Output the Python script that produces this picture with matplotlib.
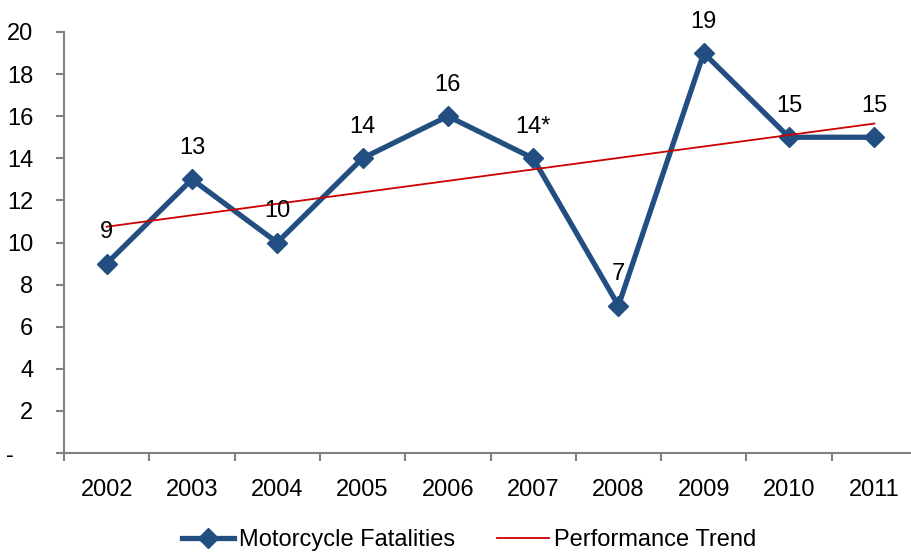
import matplotlib.pyplot as plt
from matplotlib.ticker import FixedLocator

plt.rcParams['font.family'] = ['Liberation Sans', 'DejaVu Sans']

years = ['2002', '2003', '2004', '2005', '2006', '2007', '2008', '2009', '2010', '2011']
fatalities = [9, 13, 10, 14, 16, 14, 7, 19, 15, 15]
point_labels = ['9', '13', '10', '14', '16', '14*', '7', '19', '15', '15']
trend_ends = [10.75, 15.65]   # trend line value at 2002 and at 2011

blue = '#234E82'
red = '#CC0000'
grey = '#808080'
fs = 17

fig = plt.figure(figsize=(9.11, 5.52), dpi=100)
ax = fig.add_axes([64 / 911, 99 / 552, 853 / 911, 421 / 552])

x = list(range(len(years)))
ax.plot(x, fatalities, color=blue, lw=3.8, marker='D', ms=10, mfc=blue, mec=blue,
        label='Motorcycle Fatalities', zorder=2, clip_on=False)
ax.plot([x[0], x[-1]], trend_ends, color=red, lw=1.3, label='Performance Trend', zorder=3)

for xi, yi, t in zip(x, fatalities, point_labels):
    ax.annotate(t, (xi, yi), xytext=(0, 22.5), textcoords='offset points',
                ha='center', va='center', fontsize=fs)

ax.set_xlim(-0.5, len(years) - 0.5)
ax.set_ylim(0, 20)
ax.set_yticks(range(0, 21, 2))
ax.set_yticklabels(['-   '] + [str(v) for v in range(2, 21, 2)])

ax.xaxis.set_major_locator(FixedLocator([i - 0.5 for i in range(len(years) + 1)]))
ax.xaxis.set_minor_locator(FixedLocator(x))
ax.set_xticklabels([], minor=False)
ax.set_xticklabels(years, minor=True)
ax.tick_params(axis='x', which='minor', length=0, pad=19, labelsize=fs)
ax.tick_params(axis='x', which='major', length=6, width=1.5, color=grey)
ax.tick_params(axis='y', length=6, width=1.5, color=grey, pad=16, labelsize=fs)

for s in ['top', 'right']:
    ax.spines[s].set_visible(False)
for s in ['left', 'bottom']:
    ax.spines[s].set_color(grey)
    ax.spines[s].set_linewidth(1.5)

fig.legend(loc='center', bbox_to_anchor=(0.515, 0.022), ncol=2, frameon=False,
           fontsize=fs, handlelength=2.2, handletextpad=0.2, columnspacing=1.8,
           borderpad=0)

fig.savefig('out.png', dpi=100)
